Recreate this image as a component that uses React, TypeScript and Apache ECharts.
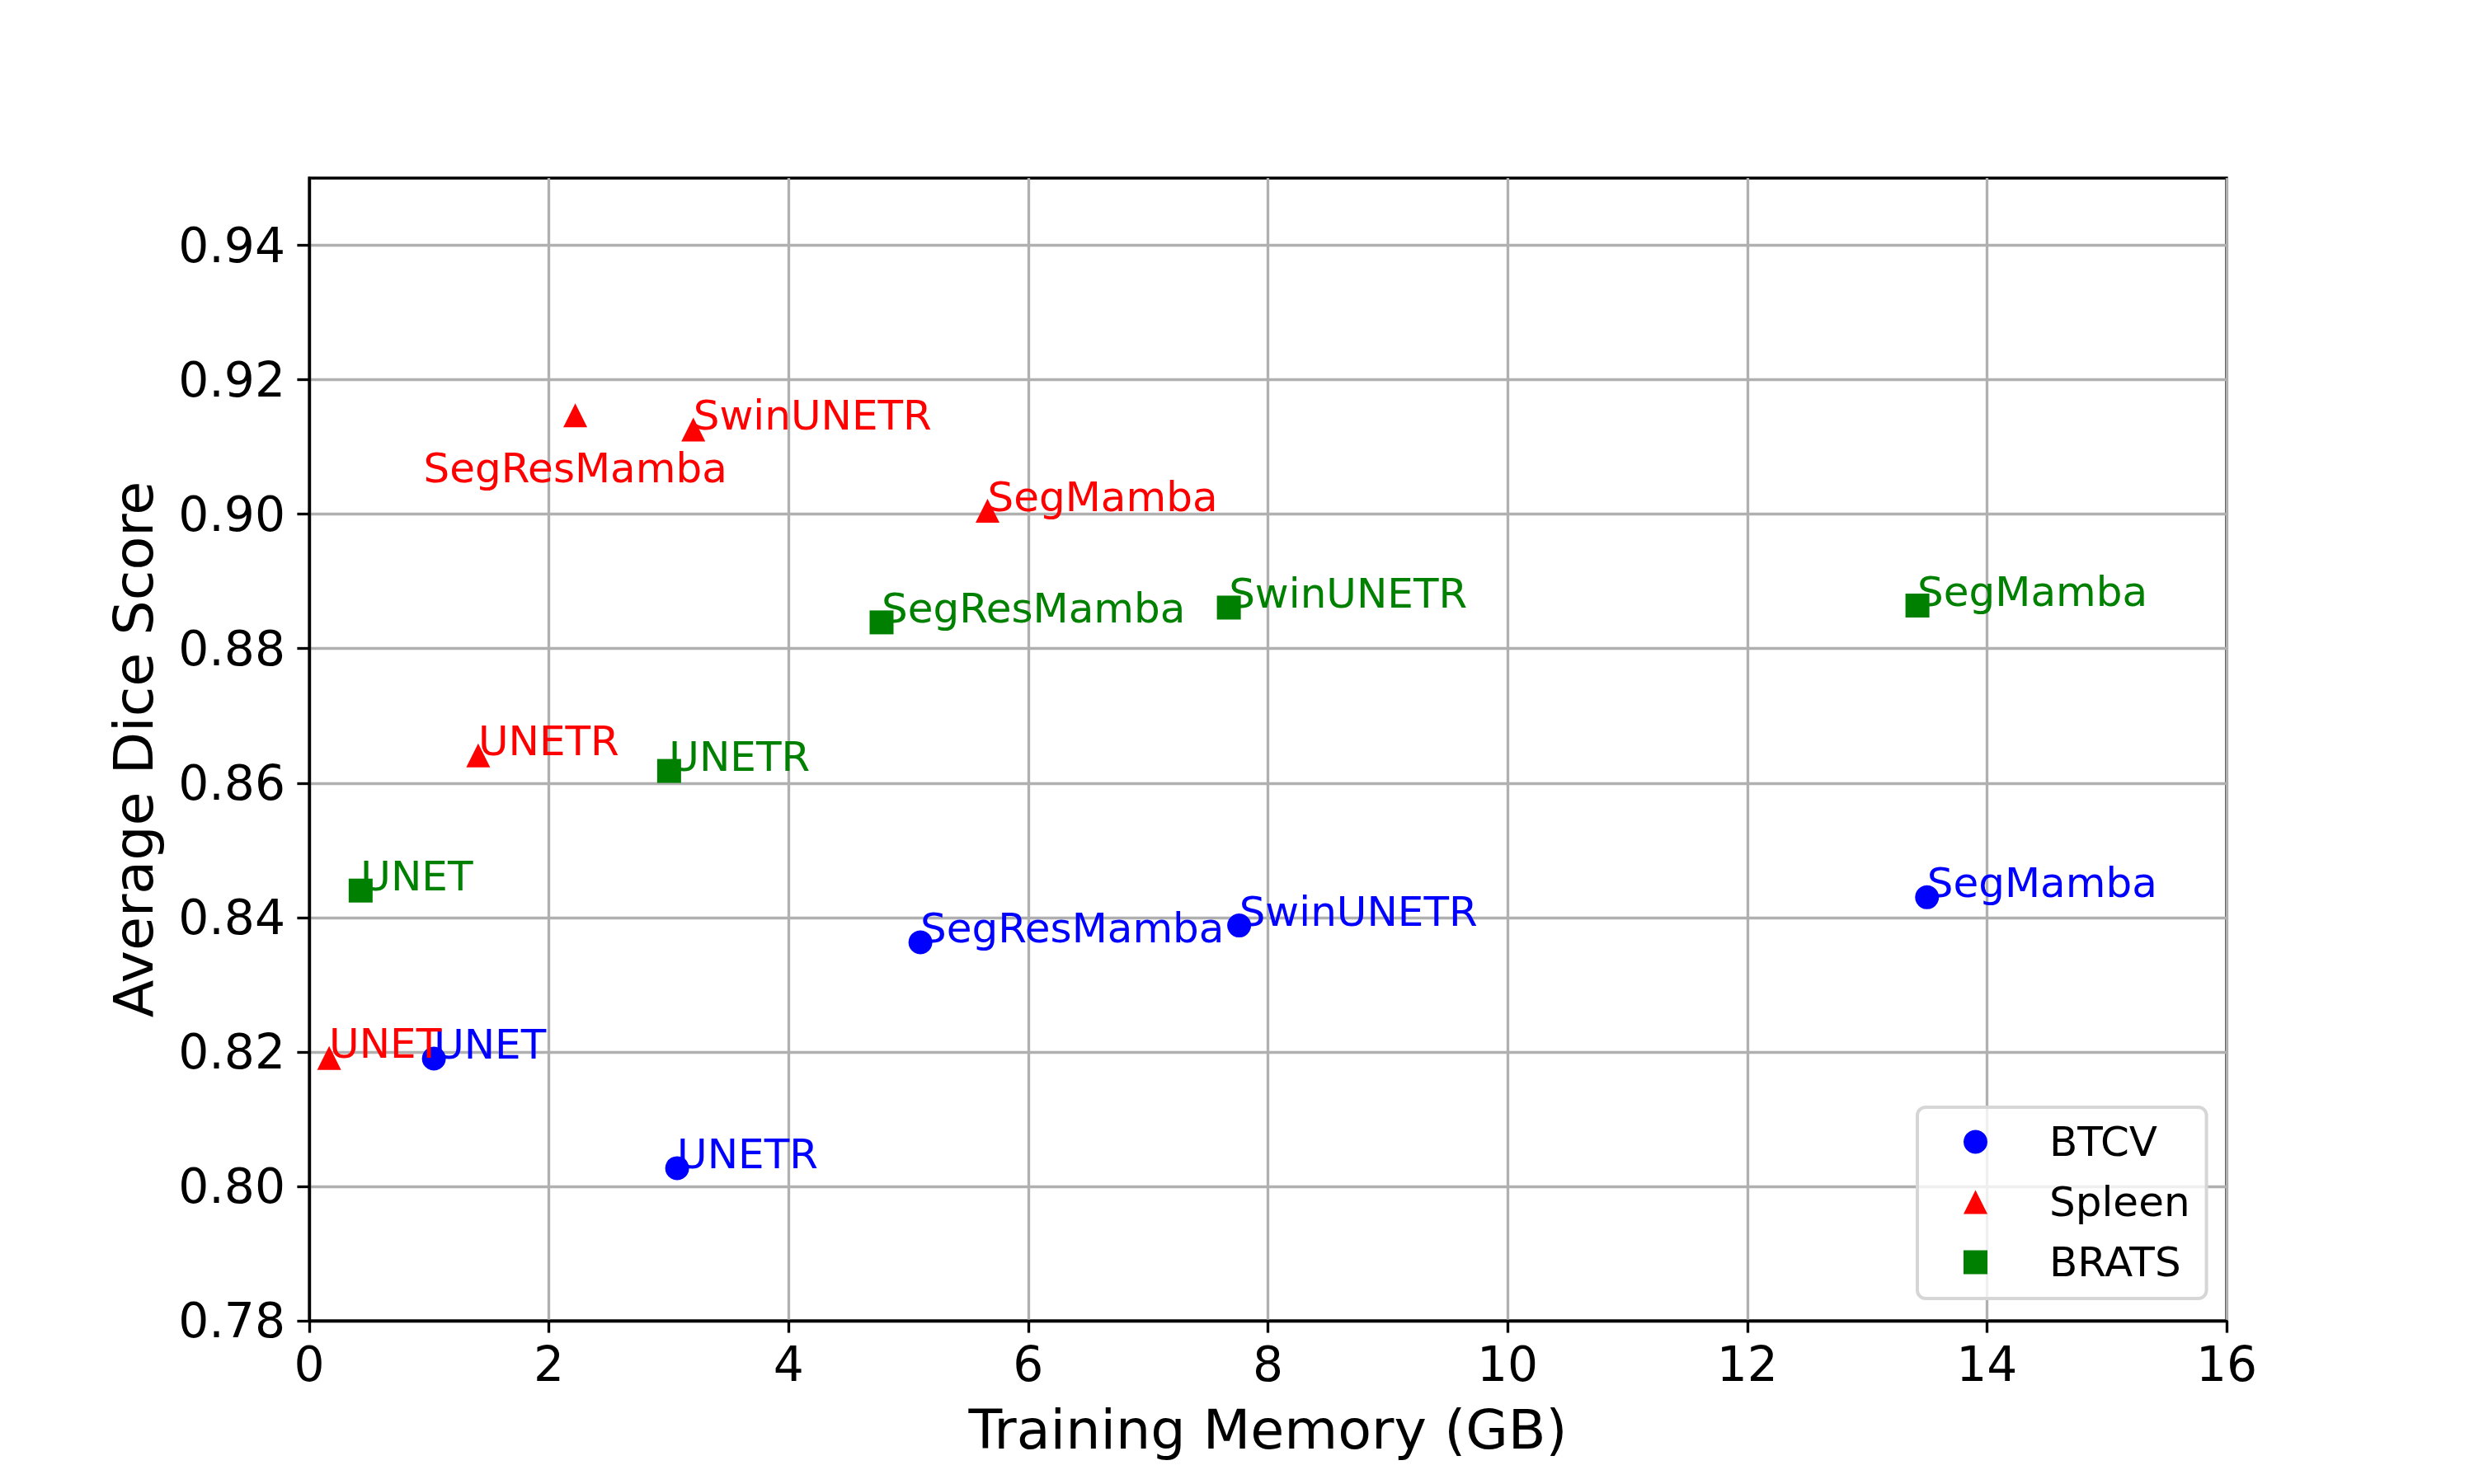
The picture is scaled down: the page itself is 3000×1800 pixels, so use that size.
import React, { useEffect, useRef } from 'react';
import * as echarts from 'echarts';

const models = ['UNET', 'UNETR', 'SegResMamba', 'SwinUNETR', 'SegMamba'];

const btcvMemory = [1.04, 3.07, 5.1, 7.76, 13.5];
const btcvDice = [0.819, 0.8027, 0.8363, 0.8388, 0.843];

const spleenMemory = [0.166, 1.41, 2.22, 3.205, 5.66];
const spleenDice = [0.8191, 0.8641, 0.9147, 0.9126, 0.9005];

const bratsMemory = [0.429, 3.003, 4.776, 7.674, 13.42];
const bratsDice = [0.844, 0.8618, 0.8839, 0.8861, 0.8864];

const yTickValues = [0.78, 0.8, 0.82, 0.84, 0.86, 0.88, 0.9, 0.92, 0.94];

const FONT = 'DejaVu Sans';

function buildData(mem: number[], dice: number[], special?: { name: string; label: any }) {
  return models.map((name, i) => {
    const item: any = { name, value: [mem[i], dice[i]] };
    if (special && special.name === name) item.label = special.label;
    return item;
  });
}

function labelStyle(color: string) {
  return {
    show: true,
    position: 'inside',
    align: 'left',
    verticalAlign: 'middle',
    offset: [0, -17],
    formatter: '{b}',
    color,
    fontSize: 50,
    fontFamily: FONT,
  };
}

export default function App() {
  const ref = useRef<HTMLDivElement>(null);

  useEffect(() => {
    if (!ref.current) return;
    const chart = echarts.init(ref.current, undefined, { renderer: 'svg' });
    const axisLineStyle = { color: '#000', width: 3.33 };
    const option: any = {
      animation: false,
      backgroundColor: '#fff',
      textStyle: { fontFamily: FONT },
      grid: {
        left: 375,
        right: 300,
        top: 216,
        bottom: 198,
        show: true,
        borderColor: '#000',
        borderWidth: 3.33,
        backgroundColor: 'transparent',
        containLabel: false,
      },
      xAxis: {
        type: 'value',
        min: 0,
        max: 16,
        interval: 2,
        name: 'Training Memory (GB)',
        nameLocation: 'middle',
        nameGap: 98,
        nameTextStyle: { fontSize: 66.7, color: '#000', fontFamily: FONT },
        axisLine: { show: true, lineStyle: axisLineStyle },
        axisTick: { show: true, inside: false, length: 14.6, lineStyle: axisLineStyle },
        axisLabel: { fontSize: 58.3, color: '#000', margin: 24, fontFamily: FONT },
        splitLine: { show: true, lineStyle: { color: '#b0b0b0', width: 3.33 } },
      },
      yAxis: {
        type: 'value',
        min: 0.78,
        max: 0.95,
        interval: 0.02,
        name: 'Average Dice Score',
        nameLocation: 'middle',
        nameRotate: 90,
        nameGap: 180,
        nameTextStyle: { fontSize: 66.7, color: '#000', fontFamily: FONT },
        axisLine: { show: true, lineStyle: axisLineStyle },
        axisTick: {
          show: true,
          inside: false,
          length: 14.6,
          lineStyle: axisLineStyle,
          customValues: yTickValues,
        },
        axisLabel: {
          fontSize: 58.3,
          color: '#000',
          margin: 29,
          fontFamily: FONT,
          customValues: yTickValues,
          formatter: (v: number) => v.toFixed(2),
        },
        splitLine: { show: true, lineStyle: { color: '#b0b0b0', width: 3.33 } },
      },
      legend: {
        left: 2325,
        top: 1343,
        orient: 'vertical',
        data: [
          { name: 'BTCV', icon: 'circle' },
          { name: 'Spleen', icon: 'triangle' },
          { name: 'BRATS', icon: 'rect' },
        ],
        itemWidth: 29,
        itemHeight: 29,
        itemGap: 23,
        padding: [17, 20, 19, 56],
        backgroundColor: 'rgba(255,255,255,0.8)',
        borderColor: '#d6d6d6',
        borderWidth: 4,
        borderRadius: 10,
        textStyle: {
          fontSize: 50,
          lineHeight: 50,
          color: '#000',
          padding: [0, 0, 0, 70],
          fontFamily: FONT,
        },
      },
      series: [
        {
          name: 'BTCV',
          type: 'scatter',
          symbol: 'circle',
          symbolSize: 29,
          itemStyle: { color: '#0000ff', opacity: 1 },
          label: labelStyle('#0000ff'),
          data: buildData(btcvMemory, btcvDice),
        },
        {
          name: 'Spleen',
          type: 'scatter',
          symbol: 'triangle',
          symbolSize: 29,
          itemStyle: { color: '#ff0000', opacity: 1 },
          label: labelStyle('#ff0000'),
          data: buildData(spleenMemory, spleenDice, {
            name: 'SegResMamba',
            label: { align: 'center', offset: [0, 64] },
          }),
        },
        {
          name: 'BRATS',
          type: 'scatter',
          symbol: 'rect',
          symbolSize: 29,
          itemStyle: { color: '#008000', opacity: 1 },
          label: labelStyle('#008000'),
          data: buildData(bratsMemory, bratsDice),
        },
      ],
    };
    chart.setOption(option);
    return () => chart.dispose();
  }, []);

  return (
    <div
      ref={ref}
      style={{ position: 'absolute', left: 0, top: 0, width: 3000, height: 1800 }}
    />
  );
}
